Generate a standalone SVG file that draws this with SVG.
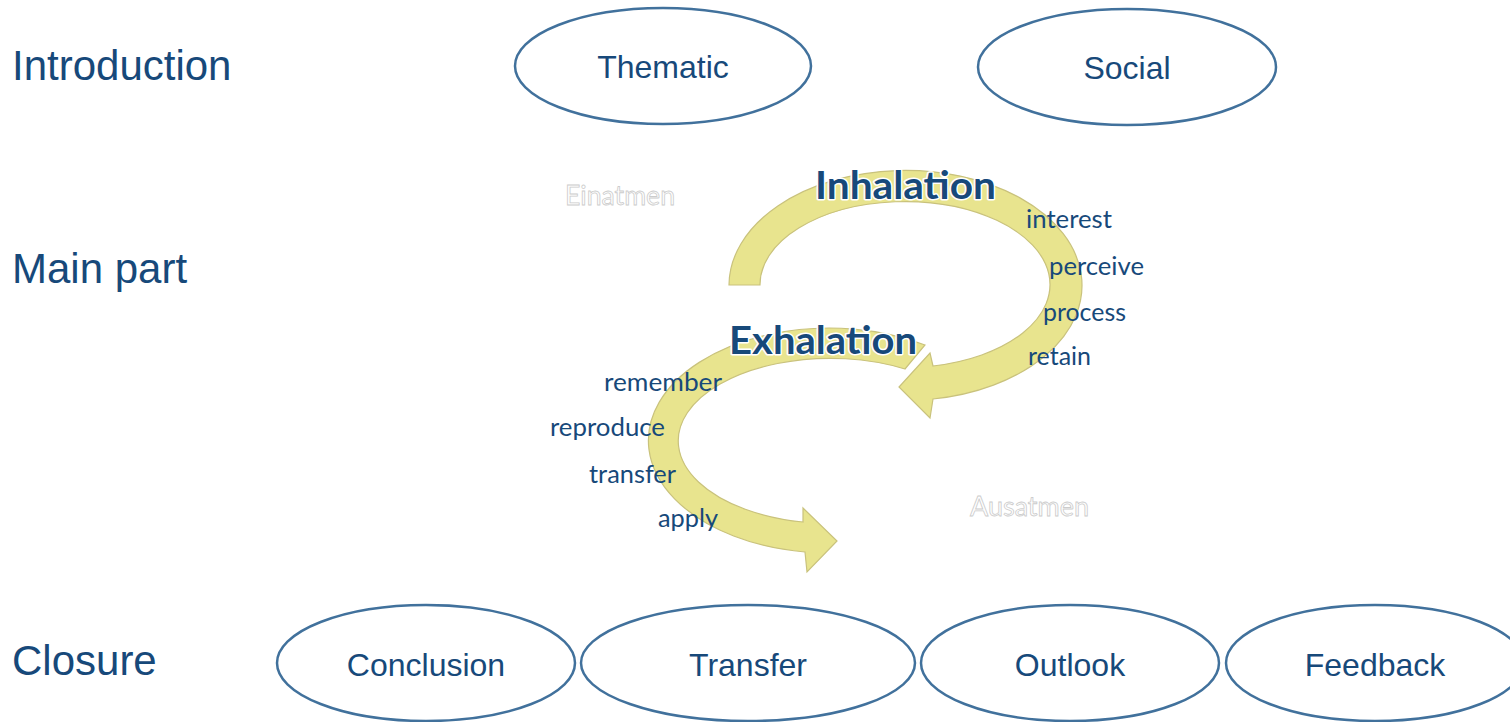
<svg xmlns="http://www.w3.org/2000/svg" width="1510" height="722" viewBox="0 0 1510 722">
<style>
.sec{font-family:"Liberation Sans",Arial,sans-serif;font-size:42px;fill:#17497A}
.node ellipse{fill:#FFFFFF;stroke:#41719C;stroke-width:2.5}
.lbl{font-family:"Liberation Sans",Arial,sans-serif;font-size:32px;fill:#17497A;text-anchor:middle}
.band{fill:#E8E48E;stroke:#C9C27C;stroke-width:1.2;stroke-linejoin:miter}
.head{font-family:Lato,"Open Sans",sans-serif;font-weight:bold;font-size:39px;fill:#17497A;stroke:#FFFFFF;stroke-width:3;paint-order:stroke;stroke-linejoin:round}
.step{font-family:Lato,"Open Sans",sans-serif;font-size:25px;fill:#17497A}
.ghost{font-family:Lato,"Open Sans",sans-serif;font-size:26px;fill:#FFFFFF;stroke:#CCCCCC;stroke-width:0.8}
</style>
<rect width="1510" height="722" fill="#FFFFFF"/>

<g id="sections">
<text class="sec" x="12" y="80">Introduction</text>
<text class="sec" x="12" y="283">Main part</text>
<text class="sec" x="12" y="675">Closure</text>
</g>

<g id="node-thematic" class="node"><ellipse cx="663" cy="66" rx="148" ry="58"/><text class="lbl" x="663" y="78">Thematic</text></g>
<g id="node-social" class="node"><ellipse cx="1127" cy="67" rx="149" ry="58"/><text class="lbl" x="1127" y="79">Social</text></g>
<g id="node-conclusion" class="node"><ellipse cx="426" cy="663" rx="149" ry="58"/><text class="lbl" x="426" y="676">Conclusion</text></g>
<g id="node-transfer" class="node"><ellipse cx="748" cy="663" rx="167" ry="58"/><text class="lbl" x="748" y="676">Transfer</text></g>
<g id="node-outlook" class="node"><ellipse cx="1070" cy="663" rx="149" ry="58"/><text class="lbl" x="1070" y="676">Outlook</text></g>
<g id="node-feedback" class="node"><ellipse cx="1375" cy="663" rx="149" ry="58"/><text class="lbl" x="1375" y="676">Feedback</text></g>

<g id="connectors">
<path id="arrow-inhalation" class="band" d="M729,285 A176.5,115 0 1 1 933,399 L930,418 L899,387 L930,353 L933,366 A145,83 0 1 0 760,285 Z"/>
<path id="arrow-exhalation" class="band" d="M925,345 A181,112.5 0 1 0 805,552 L807,572 L837,541 L803,508 L803,522 A152,82.5 0 1 1 905,369 Z"/>
</g>

<g id="breathing-labels">
<text class="ghost" x="565" y="205" textLength="110" lengthAdjust="spacingAndGlyphs">Einatmen</text>
<text class="ghost" x="970" y="516" textLength="119" lengthAdjust="spacingAndGlyphs">Ausatmen</text>
<text class="head" x="815" y="199" textLength="181" lengthAdjust="spacingAndGlyphs">Inhalation</text>
<text class="head" x="729" y="354" textLength="188" lengthAdjust="spacingAndGlyphs">Exhalation</text>
<text class="step" x="1026" y="228" textLength="86" lengthAdjust="spacingAndGlyphs">interest</text>
<text class="step" x="1049" y="275" textLength="95" lengthAdjust="spacingAndGlyphs">perceive</text>
<text class="step" x="1043" y="321" textLength="83" lengthAdjust="spacingAndGlyphs">process</text>
<text class="step" x="1028" y="365" textLength="63" lengthAdjust="spacingAndGlyphs">retain</text>
<text class="step" x="604" y="391" textLength="118" lengthAdjust="spacingAndGlyphs">remember</text>
<text class="step" x="550" y="436" textLength="115" lengthAdjust="spacingAndGlyphs">reproduce</text>
<text class="step" x="589" y="483" textLength="87" lengthAdjust="spacingAndGlyphs">transfer</text>
<text class="step" x="658" y="527" textLength="60" lengthAdjust="spacingAndGlyphs">apply</text>
</g>
</svg>
